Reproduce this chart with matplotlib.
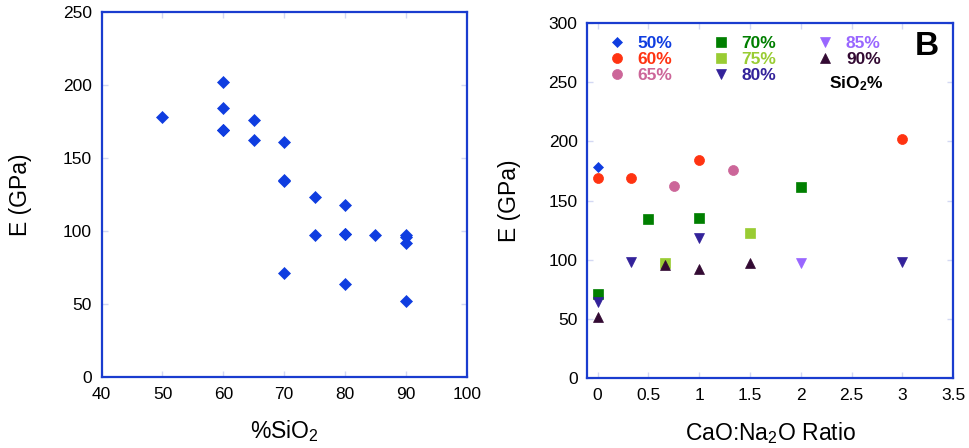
import matplotlib
matplotlib.use("Agg")
import matplotlib.pyplot as plt

plt.rcParams['font.family'] = ['Liberation Sans', 'DejaVu Sans']
plt.rcParams['mathtext.default'] = 'regular'

# Young's modulus (GPa) by CaO:Na2O ratio, grouped by SiO2 content
sio2_levels = [50, 60, 65, 70, 75, 80, 85, 90]
series_labels = ['50%', '60%', '65%', '70%', '75%', '80%', '85%', '90%']

ratio_50 = [0]
e_50 = [178]
ratio_60 = [0, 0.333, 1, 3]
e_60 = [169, 169, 184, 202]
ratio_65 = [0.75, 1.333]
e_65 = [162, 176]
ratio_70 = [0, 0.5, 1, 2]
e_70 = [71, 134, 135, 161]
ratio_75 = [0.667, 1.5]
e_75 = [97, 123]
ratio_80 = [0, 0.333, 1, 3]
e_80 = [64, 98, 118, 98]
ratio_85 = [2]
e_85 = [97]
ratio_90 = [0, 0.667, 1, 1.5]
e_90 = [52, 96, 92, 97]

ratios = [ratio_50, ratio_60, ratio_65, ratio_70, ratio_75, ratio_80, ratio_85, ratio_90]
moduli = [e_50, e_60, e_65, e_70, e_75, e_80, e_85, e_90]

colors = ['#0f3de0', '#ff3311', '#cc6699', '#007f00', '#99cc33',
          '#33229a', '#9966ff', '#330a33']
markers = ['D', 'o', 'o', 's', 's', 'v', 'v', '^']
sizes = [5.2, 7.2, 7.2, 7.2, 7.2, 7.2, 7.2, 7.2]

x_ticks_left = [40, 50, 60, 70, 80, 90, 100]
y_ticks_left = [0, 50, 100, 150, 200, 250]
x_ticks_right = [0, 0.5, 1, 1.5, 2, 2.5, 3, 3.5]
x_ticklabels_right = ['0', '0.5', '1', '1.5', '2', '2.5', '3', '3.5']
y_ticks_right = [0, 50, 100, 150, 200, 250, 300]

frame_color = '#1a3ccf'
tick_color = '#d3d8f3'

fig = plt.figure(figsize=(9.7, 4.48), dpi=100)
ax1 = fig.add_axes([0.1048, 0.1585, 0.3763, 0.8147])
ax2 = fig.add_axes([0.6055, 0.1556, 0.3773, 0.7937])


def style_axes(ax):
    for sp in ax.spines.values():
        sp.set_color(frame_color)
        sp.set_linewidth(1.6)
    ax.tick_params(direction='in', length=4, width=1, color=tick_color,
                   top=True, right=True, labelsize=12.5, pad=7,
                   labelcolor='black')


# Left: modulus against silica content
for lvl, ys in zip(sio2_levels, moduli):
    ax1.plot([lvl] * len(ys), ys, ls='none', marker='D', ms=6.3,
             color='#0f3de0', mec='#0f3de0', mew=0.5)
ax1.set_xlim(40, 100)
ax1.set_ylim(0, 250)
ax1.set_xticks(x_ticks_left)
ax1.set_yticks(y_ticks_left)
style_axes(ax1)
ax1.set_xlabel('%SiO$_2$', fontsize=16.5, labelpad=12)
ax1.set_ylabel('E (GPa)', fontsize=16.5, labelpad=22)

# Right: modulus against CaO:Na2O ratio
handles = []
for xs, ys, c, m, s, lab in zip(ratios, moduli, colors, markers, sizes, series_labels):
    h, = ax2.plot(xs, ys, ls='none', marker=m, ms=s, color=c, mec=c,
                  mew=0.5, label=lab)
    handles.append(h)
ax2.set_xlim(-0.1, 3.5)
ax2.set_ylim(0, 300)
ax2.set_xticks(x_ticks_right)
ax2.set_xticklabels(x_ticklabels_right)
ax2.set_yticks(y_ticks_right)
style_axes(ax2)
ax2.set_xlabel('CaO:Na$_2$O Ratio', fontsize=16.5, labelpad=12)
ax2.set_ylabel('E (GPa)', fontsize=16.5, labelpad=20)

leg = ax2.legend(handles=handles, ncol=3, loc='upper left',
                 bbox_to_anchor=(0.056, 0.963), frameon=False,
                 borderaxespad=0, borderpad=0, handlelength=1.0,
                 handletextpad=0.7, columnspacing=2.3, labelspacing=0.05,
                 markerscale=1.0, labelcolor=colors,
                 prop={'weight': 'bold', 'size': 12.5})

ax2.text(0.660, 0.828, 'SiO$_2$%', transform=ax2.transAxes, fontsize=12.5,
         fontweight='bold', ha='left', va='center', color='black')
ax2.text(0.895, 0.932, 'B', transform=ax2.transAxes, fontsize=24,
         fontweight='bold', ha='left', va='center', color='black')

fig.savefig('out.png', dpi=100)
